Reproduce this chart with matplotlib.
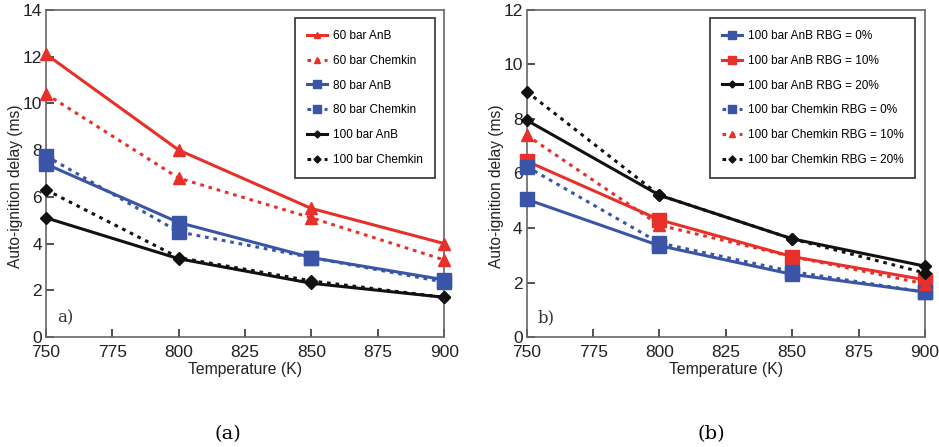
import matplotlib
matplotlib.use("Agg")
import matplotlib.pyplot as plt

temps = [750, 800, 850, 900]

# panel a
a_60_anb = [12.1, 8.0, 5.5, 4.0]
a_60_chem = [10.4, 6.8, 5.1, 3.3]
a_80_anb = [7.4, 4.9, 3.4, 2.45]
a_80_chem = [7.75, 4.5, 3.4, 2.35]
a_100_anb = [5.1, 3.35, 2.3, 1.7]
a_100_chem = [6.3, 3.4, 2.4, 1.7]

# panel b
b_anb_0 = [5.05, 3.35, 2.3, 1.65]
b_anb_10 = [6.45, 4.3, 2.95, 2.1]
b_anb_20 = [7.95, 5.2, 3.6, 2.6]
b_chem_0 = [6.25, 3.45, 2.4, 1.65]
b_chem_10 = [7.4, 4.1, 2.95, 1.95]
b_chem_20 = [9.0, 5.2, 3.6, 2.35]

RED = "#e8302a"
BLUE = "#3a55a8"
BLACK = "#111111"
DOT = (0, (1.2, 1.6))

plt.rcParams['font.family'] = ['Liberation Sans', 'DejaVu Sans']

fig = plt.figure(figsize=(9.39, 4.47), dpi=100)
ax1 = fig.add_axes([0.049, 0.246, 0.424, 0.732])
ax2 = fig.add_axes([0.561, 0.246, 0.424, 0.732])


def series(ax, y, color, ls, marker, ms, label):
    ax.plot(temps, y, color=color, linestyle=ls, linewidth=2.2, marker=marker,
            markersize=ms, label=label, clip_on=False, zorder=3)


series(ax1, a_60_anb, RED, '-', '^', 9, '60 bar AnB')
series(ax1, a_60_chem, RED, DOT, '^', 9, '60 bar Chemkin')
series(ax1, a_80_anb, BLUE, '-', 's', 10, '80 bar AnB')
series(ax1, a_80_chem, BLUE, DOT, 's', 10, '80 bar Chemkin')
series(ax1, a_100_anb, BLACK, '-', 'D', 6.5, '100 bar AnB')
series(ax1, a_100_chem, BLACK, DOT, 'D', 6.5, '100 bar Chemkin')

series(ax2, b_anb_0, BLUE, '-', 's', 10, '100 bar AnB RBG = 0%')
series(ax2, b_anb_10, RED, '-', 's', 10, '100 bar AnB RBG = 10%')
series(ax2, b_anb_20, BLACK, '-', 'D', 6.5, '100 bar AnB RBG = 20%')
series(ax2, b_chem_0, BLUE, DOT, 's', 10, '100 bar Chemkin RBG = 0%')
series(ax2, b_chem_10, RED, DOT, '^', 9, '100 bar Chemkin RBG = 10%')
series(ax2, b_chem_20, BLACK, DOT, 'D', 6.5, '100 bar Chemkin RBG = 20%')

for ax, ymax, tag in ((ax1, 14, 'a)'), (ax2, 12, 'b)')):
    ax.set_xlim(750, 900)
    ax.set_ylim(0, ymax)
    ax.set_xticks([750, 775, 800, 825, 850, 875, 900])
    ax.set_yticks(range(0, ymax + 1, 2))
    ax.tick_params(direction='in', length=6, width=1.2, labelsize=12.5,
                   colors='#333333', labelcolor='#222222')
    ax.tick_params(axis='x', pad=6)
    ax.tick_params(axis='y', pad=3)
    for s in ax.spines.values():
        s.set_color('#666666')
        s.set_linewidth(1.2)
    ax.set_xlabel('Temperature (K)', fontsize=11.3, color='#222222', labelpad=1)
    ax.set_ylabel('Auto-ignition delay (ms)', fontsize=11.2, color='#222222')
    ax.yaxis.set_label_coords(-0.058, 0.46)
    ax.text(0.028, 0.045, tag, transform=ax.transAxes, fontsize=12,
            family='DejaVu Serif', color='#333333')
    leg = ax.legend(loc='upper right', fontsize=8.5, handlelength=1.7,
                    markerscale=0.55, labelspacing=1.08, borderpad=1.0,
                    frameon=True, fancybox=False, edgecolor='#111111',
                    bbox_to_anchor=(0.985, 0.985), handletextpad=0.5,
                    borderaxespad=0.3)
    leg.get_frame().set_linewidth(1.3)

fig.text(0.243, 0.018, '(a)', fontsize=14, family='DejaVu Serif', ha='center')
fig.text(0.757, 0.018, '(b)', fontsize=14, family='DejaVu Serif', ha='center')

fig.savefig('out.png', dpi=100)
